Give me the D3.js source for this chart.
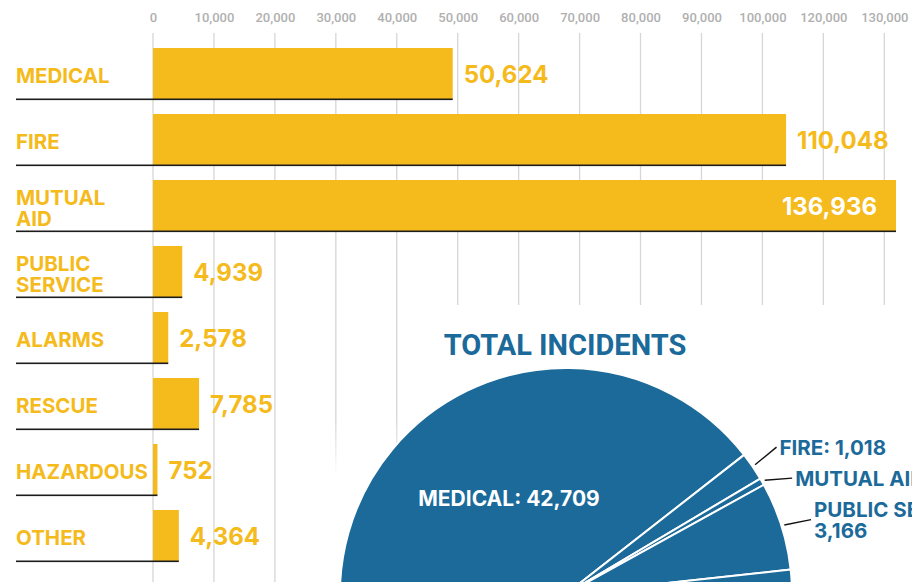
<!DOCTYPE html>
<html>
<head>
<meta charset="utf-8">
<script src="https://cdn.jsdelivr.net/npm/d3@7"></script>
<style>
  html, body { margin: 0; padding: 0; background: #ffffff; }
  svg { display: block; }
</style>
</head>
<body>
<svg id="chart" width="912" height="582"></svg>
<script>
// ---------------- DATA ----------------
const categories = ["MEDICAL", "FIRE", "MUTUAL AID", "PUBLIC SERVICE", "ALARMS", "RESCUE", "HAZARDOUS", "OTHER"];
const values = [50624, 110048, 136936, 4939, 2578, 7785, 752, 4364];
const tickValues = [0, 10000, 20000, 30000, 40000, 50000, 60000, 70000, 80000, 90000, 100000, 120000, 130000];

const pieTitle = "TOTAL INCIDENTS";
const pieCategories = ["MEDICAL", "FIRE", "MUTUAL AID", "PUBLIC SERVICE", "ALARMS", "RESCUE", "HAZARDOUS", "OTHER"];
const pieValues = [42709, 1018, 250, 3166, 2000, 620, 95, 335];

// ---------------- STYLE ----------------
const W = 912, H = 582;
const YELLOW = "#F5BA1B";
const BLUE = "#1B6A9A";
const GRID = "#d6d6d6";
const TICK = "#b0b0b0";
const fmt = d3.format(",");

const svg = d3.select("#chart");

// ---------------- BAR CHART ----------------
const labelX = 16;
const x0 = 153;
const x = d3.scaleLinear().domain([0, 100000, d3.max(values)]).range([x0, 745, 896]);
const tickX = d3.scalePoint().domain(tickValues).range([x0, 884.3]);
const y = d3.scaleBand().domain(categories).range([48, 561]).paddingInner(15 / 66).paddingOuter(0);

// gridlines
svg.append("g").selectAll("line").data(tickValues).join("line")
  .attr("x1", d => tickX(d)).attr("x2", d => tickX(d))
  .attr("y1", 33).attr("y2", H)
  .attr("stroke", GRID).attr("stroke-width", 1.3);

// top axis labels
const axis = d3.axisTop(tickX).tickSize(0).tickPadding(0).tickFormat(d => fmt(d));
const axG = svg.append("g").attr("transform", "translate(0,21.5)").call(axis);
axG.select(".domain").remove();
axG.selectAll("text")
  .attr("fill", TICK)
  .style("font-family", "Roboto, sans-serif")
  .style("font-weight", "500")
  .style("font-size", "13px");

// white panel behind the pie area (covers gridlines)
const defs = svg.append("defs");
const grad = defs.append("linearGradient").attr("id", "fadeDown").attr("x1", 0).attr("y1", 0).attr("x2", 0).attr("y2", 1);
grad.append("stop").attr("offset", "0").attr("stop-color", "#fff").attr("stop-opacity", 0);
grad.append("stop").attr("offset", "0.35").attr("stop-color", "#fff").attr("stop-opacity", 1);
grad.append("stop").attr("offset", "1").attr("stop-color", "#fff").attr("stop-opacity", 1);
svg.append("rect").attr("x", 425).attr("y", 305).attr("width", W - 425).attr("height", H - 305).attr("fill", "#fff");
svg.append("rect").attr("x", 300).attr("y", 420).attr("width", 125).attr("height", H - 420).attr("fill", "url(#fadeDown)");

// bars
const rows = svg.append("g").selectAll("g").data(categories).join("g");

rows.append("rect")
  .attr("x", x0)
  .attr("y", d => y(d))
  .attr("width", (d, i) => x(values[i]) - x0)
  .attr("height", y.bandwidth())
  .attr("fill", YELLOW);

// black baseline from label to bar end
rows.append("rect")
  .attr("x", labelX)
  .attr("y", d => y(d) + y.bandwidth() - 0.5)
  .attr("width", (d, i) => x(values[i]) - labelX)
  .attr("height", 1.6)
  .attr("fill", "#1c1c1c");

// category labels
rows.each(function(d) {
  const g = d3.select(this);
  const lines = d.split(" ");
  const cy = y(d) + y.bandwidth() / 2 + 2;
  const lh = 21;
  const t = g.append("text")
    .attr("fill", YELLOW)
    .style("font-family", "Inter, sans-serif")
    .style("font-weight", "700")
    .style("font-size", "20.5px");
  lines.forEach((ln, k) => {
    t.append("tspan")
      .attr("x", labelX)
      .attr("y", cy + 7.5 + (k - (lines.length - 1) / 2) * lh)
      .text(ln);
  });
});

// value labels
rows.each(function(d, i) {
  const g = d3.select(this);
  const xe = x(values[i]);
  const cy = y(d) + y.bandwidth() / 2;
  const t = g.append("text")
    .attr("x", xe + 11)
    .attr("y", cy + 9)
    .attr("fill", YELLOW)
    .style("font-family", "Inter, sans-serif")
    .style("font-weight", "700")
    .style("font-size", "24px")
    .text(fmt(values[i]));
  const w = t.node().getComputedTextLength();
  if (xe + 11 + w > W - 6) {
    t.attr("x", xe - 19).attr("text-anchor", "end").attr("fill", "#ffffff");
  }
});

// ---------------- PIE ----------------
const cx = 566, cyP = 594, R = 226;
const total = d3.sum(pieValues);
const medicalEnd = 52 * Math.PI / 180;
const start = medicalEnd - pieValues[0] / total * 2 * Math.PI;
const pie = d3.pie().sort(null).value(d => d).startAngle(start).endAngle(start + 2 * Math.PI);
const arcs = pie(pieValues);
const arc = d3.arc().innerRadius(0).outerRadius(R);

svg.append("text")
  .attr("x", cx - 1).attr("y", 355)
  .attr("text-anchor", "middle")
  .attr("fill", BLUE)
  .style("font-family", "Roboto, sans-serif")
  .style("font-weight", "700")
  .style("font-size", "29px")
  .text(pieTitle);

const pg = svg.append("g").attr("transform", `translate(${cx},${cyP})`);
pg.selectAll("path").data(arcs).join("path")
  .attr("d", arc)
  .attr("fill", BLUE)
  .attr("stroke", "#ffffff")
  .attr("stroke-width", 2)
  .attr("stroke-linejoin", "round");

// inside label for the largest slice
pg.append("text")
  .attr("x", -57).attr("y", -88)
  .attr("text-anchor", "middle")
  .attr("fill", "#ffffff")
  .style("font-family", "Inter, sans-serif")
  .style("font-weight", "700")
  .style("font-size", "21px")
  .text(pieCategories[0] + ": " + fmt(pieValues[0]));

// outside labels with leader lines
const LH = 21;
const labelFont = t => t
  .style("font-family", "Inter, sans-serif")
  .style("font-weight", "700")
  .style("font-size", "20.5px");
const probeText = labelFont(pg.append("text"));
const outside = [];
arcs.forEach((a, i) => {
  if (i === 0) return;
  const mid = (a.startAngle + a.endAngle) / 2;
  const sx = Math.sin(mid), sy = -Math.cos(mid);
  const full = pieCategories[i] + ": " + fmt(pieValues[i]);
  probeText.text(full);
  const w = probeText.node().getComputedTextLength();
  const lines = w > 205 ? [pieCategories[i] + ":", fmt(pieValues[i])] : [full];
  outside.push({
    i, lines, right: sx >= 0,
    p1: [sx * (R + 3), sy * (R + 3)],
    p2: [sx * (R + 29), sy * (R + 29) - 3]
  });
});
probeText.remove();

// spread labels vertically on the right side so they do not collide
const rightSide = outside.filter(o => o.right).sort((a, b) => a.p2[1] - b.p2[1]);
for (let k = 1; k < rightSide.length; k++) {
  const prev = rightSide[k - 1], cur = rightSide[k];
  const gap = (prev.lines.length * LH) / 2 + (cur.lines.length * LH) / 2 + 10;
  if (cur.p2[1] < prev.p2[1] + gap) {
    const shift = prev.p2[1] + gap - cur.p2[1];
    cur.p2[1] += shift;
    cur.p2[0] += shift * 0.35; // flatten the leader line a little
  }
}

outside.forEach(o => {
  const top = cyP + o.p2[1] - (o.lines.length * LH) / 2;
  if (top > H) return; // entirely below the picture
  pg.append("line")
    .attr("x1", o.p1[0]).attr("y1", o.p1[1]).attr("x2", o.p2[0]).attr("y2", o.p2[1])
    .attr("stroke", "#111").attr("stroke-width", 1.4);
  const t = labelFont(pg.append("text"))
    .attr("fill", BLUE)
    .attr("text-anchor", o.right ? "start" : "end");
  const tx = o.p2[0] + (o.right ? 3 : -3);
  o.lines.forEach((ln, k) => {
    t.append("tspan")
      .attr("x", tx)
      .attr("y", o.p2[1] + 7.5 + (k - (o.lines.length - 1) / 2) * LH)
      .text(ln);
  });
});
</script>
</body>
</html>
